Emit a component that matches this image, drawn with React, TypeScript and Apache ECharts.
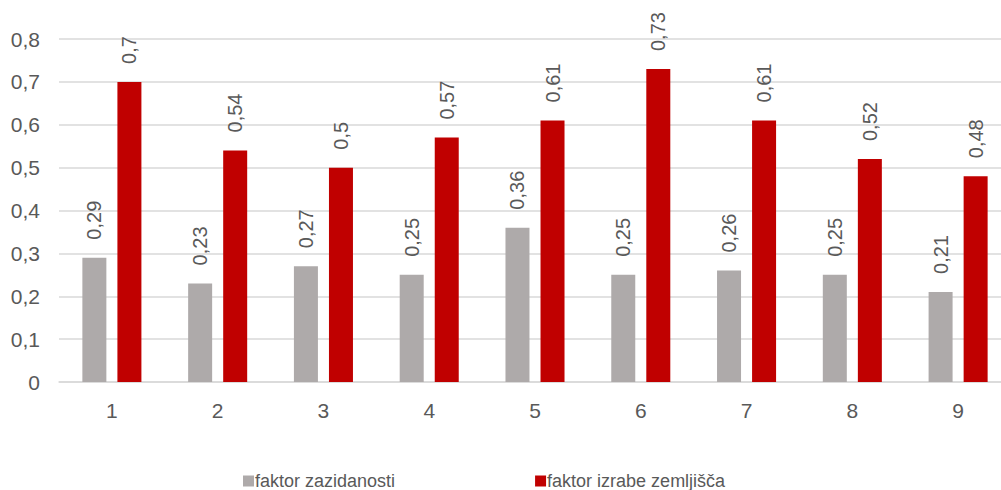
import React, { useEffect, useRef } from "react";
import * as echarts from "echarts";

const categories = ["1", "2", "3", "4", "5", "6", "7", "8", "9"];
const zazidanost = [0.29, 0.23, 0.27, 0.25, 0.36, 0.25, 0.26, 0.25, 0.21];
const izraba = [0.7, 0.54, 0.5, 0.57, 0.61, 0.73, 0.61, 0.52, 0.48];
const seriesNames = ["faktor zazidanosti", "faktor izrabe zemljišča"];

const fmt = (v: number) => String(v).replace(".", ",");

export default function App() {
  const ref = useRef<HTMLDivElement>(null);
  useEffect(() => {
    const chart = echarts.init(ref.current!, null, { renderer: "svg" });
    const font = "Arial, 'Liberation Sans', sans-serif";
    const label = {
      show: true,
      position: "top",
      rotate: 90,
      align: "left",
      verticalAlign: "middle",
      distance: 18,
      color: "#595959",
      fontSize: 20,
      fontFamily: font,
      formatter: (p: any) => fmt(p.value),
    };
    chart.setOption({
      animation: false,
      grid: { left: 59, right: 1, top: 39, bottom: 108, containLabel: false },
      legend: {
        left: 238,
        top: 467,
        itemWidth: 11,
        itemHeight: 11,
        itemGap: 140,
        itemStyle: { borderWidth: 0 },
        textStyle: {
          color: "#595959",
          fontSize: 18,
          fontFamily: font,
          padding: [0, 0, 0, -4],
        },
        icon: "rect",
        data: seriesNames,
      },
      xAxis: {
        type: "category",
        data: categories,
        axisLine: { lineStyle: { color: "#D9D9D9", width: 1.5 } },
        axisTick: { show: false },
        axisLabel: { color: "#595959", fontSize: 21, fontFamily: font, margin: 18 },
      },
      yAxis: {
        type: "value",
        min: 0,
        max: 0.8,
        interval: 0.1,
        axisLine: { show: false },
        axisTick: { show: false },
        splitLine: { lineStyle: { color: "#D9D9D9", width: 1.5 } },
        axisLabel: {
          color: "#595959",
          fontSize: 21,
          fontFamily: font,
          margin: 19,
          formatter: (v: number) => fmt(Math.round(v * 10) / 10),
        },
      },
      series: [
        {
          name: seriesNames[0],
          type: "bar",
          data: zazidanost,
          barWidth: 24,
          barGap: "46%",
          itemStyle: { color: "#AEAAAA" },
          label,
        },
        {
          name: seriesNames[1],
          type: "bar",
          data: izraba,
          barWidth: 24,
          itemStyle: { color: "#C00000" },
          label,
        },
      ],
    });
    return () => chart.dispose();
  }, []);
  return (
    <div
      ref={ref}
      style={{ position: "fixed", left: 0, top: 0, width: 1012, height: 490, background: "#fff" }}
    />
  );
}
